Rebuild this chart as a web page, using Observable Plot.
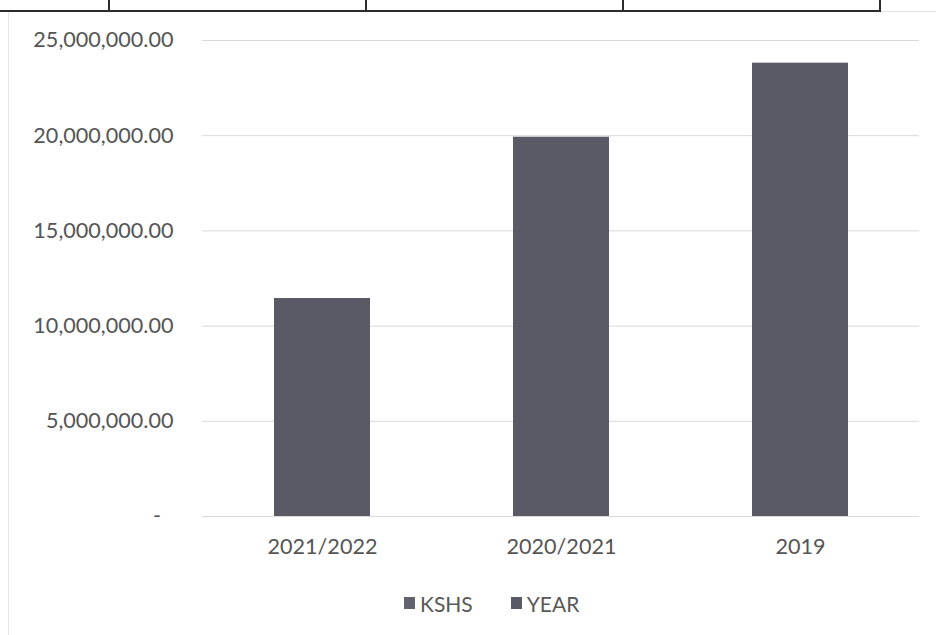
<!DOCTYPE html>
<html>
<head>
<meta charset="utf-8">
<script src="https://cdn.jsdelivr.net/npm/d3@7"></script>
<script src="https://cdn.jsdelivr.net/npm/@observablehq/plot@0.6"></script>
<style>
  body { margin: 0; background: #fff; }
  #page { position: relative; width: 936px; height: 635px; overflow: hidden; background: #fff;
          font-family: Lato, "Open Sans", sans-serif; color: #595959; }
  #chart { position: absolute; left: 0; top: 0; }
  .line { position: absolute; }
  #legend { position: absolute; left: 404px; top: 590px; height: 26px; display: flex; align-items: center;
            font-size: 21px; color: #595959; }
  .item { display: flex; align-items: center; margin-right: 38px; }
  .swatch { width: 11px; height: 12px; margin-right: 5px; }
</style>
</head>
<body>
<div id="page">
  <!-- table rule above the chart -->
  <div class="line" style="left:0;top:10px;width:881px;height:2px;background:#2b2b2b"></div>
  <div class="line" style="left:108px;top:0;width:2px;height:11px;background:#2b2b2b"></div>
  <div class="line" style="left:365px;top:0;width:2px;height:11px;background:#2b2b2b"></div>
  <div class="line" style="left:622px;top:0;width:2px;height:11px;background:#2b2b2b"></div>
  <div class="line" style="left:879px;top:0;width:2px;height:12px;background:#2b2b2b"></div>
  <!-- chart area border -->
  <div class="line" style="left:881px;top:11px;width:55px;height:1px;background:#e2e2e2"></div>
  <div class="line" style="left:8px;top:12px;width:1px;height:623px;background:#e6e6e6"></div>
  <div id="chart"></div>
  <div id="legend"></div>
</div>
<script>
// Amounts in KSHS per financial year
const years = ["2021/2022", "2020/2021", "2019"];
const kshs = [11450000, 19920000, 23810000];
const yTicks = [0, 5000000, 10000000, 15000000, 20000000, 25000000];
const seriesNames = ["KSHS", "YEAR"];
const seriesColors = ["#62626d", "#5a5a66"];

const rows = years.map((year, i) => ({year, kshs: kshs[i]}));
const money = d3.format(",.2f");

const chart = Plot.plot({
  width: 936,
  height: 575,
  marginLeft: 202,
  marginRight: 17,
  marginTop: 40,
  marginBottom: 59,
  style: {fontFamily: "Lato, 'Open Sans', sans-serif", fontSize: "21.6px", color: "#555555", background: "transparent", overflow: "visible"},
  x: {domain: years, paddingInner: 0.6, paddingOuter: 0.3, label: null},
  y: {domain: [0, 25000000], label: null},
  marks: [
    Plot.gridY(yTicks, {stroke: "#d9d9d9", strokeOpacity: 1, strokeWidth: 1}),
    Plot.barY(rows, {x: "year", y: "kshs", fill: "#5a5a66"}),
    Plot.axisY(yTicks, {tickSize: 0, tickPadding: 29, label: null,
      tickFormat: d => d === 0 ? "-\u2007" : money(d)}),
    Plot.axisX({tickSize: 0, tickPadding: 22, label: null})
  ]
});
document.getElementById("chart").appendChild(chart);

// Legend below the plot
const legend = document.getElementById("legend");
seriesNames.forEach((name, i) => {
  const item = document.createElement("div");
  item.className = "item";
  const sw = document.createElement("span");
  sw.className = "swatch";
  sw.style.background = seriesColors[i];
  const label = document.createElement("span");
  label.textContent = name;
  item.appendChild(sw);
  item.appendChild(label);
  legend.appendChild(item);
});
</script>
</body>
</html>
